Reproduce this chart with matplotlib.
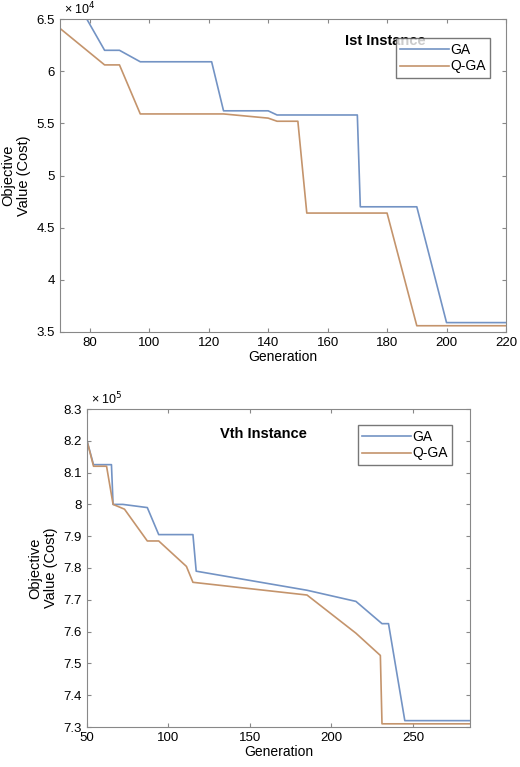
import matplotlib
matplotlib.use('Agg')
import matplotlib.pyplot as plt

# ── 1st instance (x 1e4) ──
gen1_ga = [78, 80, 85, 90, 97, 121, 125, 140, 143, 170, 171, 190, 200, 220]
cost1_ga = [6.55, 6.45, 6.2, 6.2, 6.09, 6.09, 5.62, 5.62, 5.58, 5.58, 4.70, 4.70, 3.59, 3.59]
gen1_qga = [70, 85, 90, 97, 125, 140, 143, 150, 153, 180, 190, 220]
cost1_qga = [6.41, 6.06, 6.06, 5.59, 5.59, 5.55, 5.52, 5.52, 4.64, 4.64, 3.56, 3.56]

# ── 5th instance (x 1e5) ──
gen5_ga = [50, 54, 65, 66, 72, 87, 94, 115, 117, 185, 215, 231, 235, 245, 285]
cost5_ga = [8.20, 8.125, 8.125, 8.00, 8.00, 7.99, 7.905, 7.905, 7.79, 7.73, 7.695, 7.625, 7.625, 7.32, 7.32]
gen5_qga = [50, 54, 62, 66, 73, 87, 94, 111, 115, 185, 215, 230, 231, 285]
cost5_qga = [8.20, 8.12, 8.12, 8.00, 7.985, 7.885, 7.885, 7.805, 7.755, 7.715, 7.595, 7.525, 7.31, 7.31]

C_GA = '#7393C4'
C_QGA = '#C4946C'
GREY = '#888888'

plt.rcParams['font.family'] = ['Liberation Sans', 'DejaVu Sans']

fig = plt.figure(figsize=(5.2, 7.67), dpi=100, facecolor='white')


def style(ax, xlim, ylim, xticks, yticks, exp, leg_loc):
    ax.set_xlim(*xlim)
    ax.set_ylim(*ylim)
    ax.set_xticks(xticks)
    ax.set_yticks(yticks)
    ax.set_yticklabels([f'{v:g}' for v in yticks])
    ax.tick_params(direction='in', top=True, right=True, labelsize=9.5,
                   color=GREY, length=3)
    for s in ax.spines.values():
        s.set_color(GREY)
    ax.set_xlabel('Generation', fontsize=10, labelpad=1)
    ax.set_ylabel('Objective\nValue (Cost)', fontsize=10.5)
    ax.text(0.01, 1.005, '× 10$^{%d}$' % exp, transform=ax.transAxes, fontsize=9,
            ha='left', va='bottom')
    leg = ax.legend(loc='upper right', fontsize=10, fancybox=False,
                    handlelength=3.5, borderpad=0.3, labelspacing=0.2,
                    handletextpad=0.1, bbox_to_anchor=leg_loc)
    leg.get_frame().set_edgecolor('#555555')
    leg.get_frame().set_linewidth(1.0)
    return ax


ax1 = fig.add_axes([60 / 520, 1 - 332 / 767, 446 / 520, 313 / 767])
ax1.plot(gen1_ga, cost1_ga, color=C_GA, lw=1.2, label='GA')
ax1.plot(gen1_qga, cost1_qga, color=C_QGA, lw=1.2, label='Q-GA')
style(ax1, (70, 220), (3.5, 6.5), range(80, 221, 20), [3.5, 4, 4.5, 5, 5.5, 6, 6.5],
      4, (0.98, 0.96))
ax1.text(0.73, 0.93, 'Ist Instance', transform=ax1.transAxes, fontsize=10.5,
         fontweight='bold', ha='center', va='center')

ax2 = fig.add_axes([87 / 520, 1 - 727 / 767, 383 / 520, 318 / 767])
ax2.plot(gen5_ga, cost5_ga, color=C_GA, lw=1.2, label='GA')
ax2.plot(gen5_qga, cost5_qga, color=C_QGA, lw=1.2, label='Q-GA')
style(ax2, (50, 285), (7.3, 8.3), range(50, 251, 50),
      [7.3, 7.4, 7.5, 7.6, 7.7, 7.8, 7.9, 8.0, 8.1, 8.2, 8.3], 5, (0.97, 0.97))
ax2.text(0.46, 0.92, 'Vth Instance', transform=ax2.transAxes, fontsize=10.5,
         fontweight='bold', ha='center', va='center')

fig.savefig('out.png', dpi=100, facecolor='white')
